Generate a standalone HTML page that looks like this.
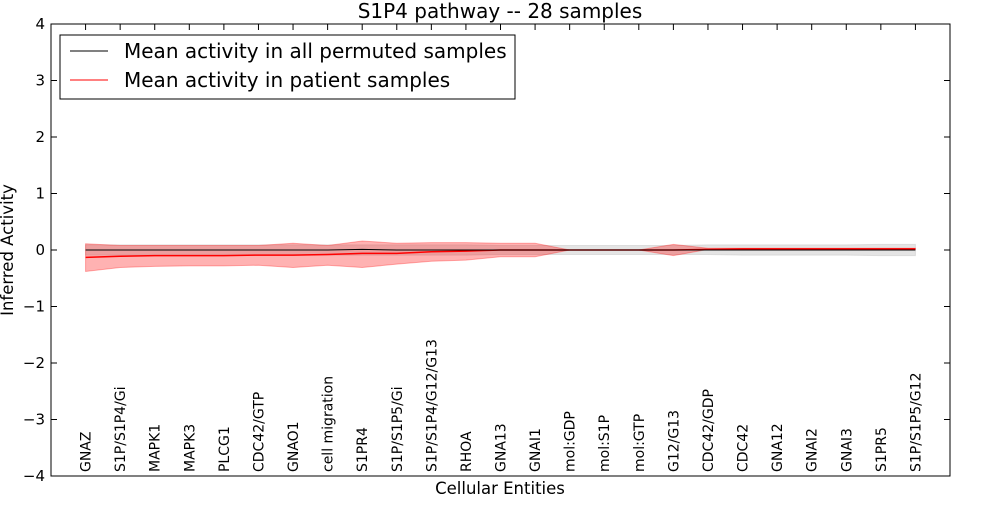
<!DOCTYPE html>
<html><head><meta charset="utf-8"><style>
body{margin:0;background:#fff;font-family:"Liberation Sans","DejaVu Sans",sans-serif}
</style></head><body>
<svg id="chart" width="1000" height="500" xmlns="http://www.w3.org/2000/svg" font-family="'DejaVu Sans','Liberation Sans',sans-serif">
<g id="bands"></g><g id="lines"></g><g id="axes"></g>
</svg>
<script>
const categories=["GNAZ","S1P/S1P4/Gi","MAPK1","MAPK3","PLCG1","CDC42/GTP","GNAO1","cell migration","S1PR4","S1P/S1P5/Gi","S1P/S1P4/G12/G13","RHOA","GNA13","GNAI1","mol:GDP","mol:S1P","mol:GTP","G12/G13","CDC42/GDP","CDC42","GNA12","GNAI2","GNAI3","S1PR5","S1P/S1P5/G12"];
const permMean=[0,0,0,0,0,0,0,0,0.01,0,0,0,0,0,0,0,0,0,0,0,0,0,0,0,0];
const permUpper=[0.09,0.09,0.09,0.09,0.09,0.09,0.09,0.09,0.09,0.09,0.09,0.09,0.08,0.08,0.08,0.08,0.08,0.08,0.09,0.09,0.09,0.09,0.09,0.1,0.1];
const permLower=[-0.09,-0.09,-0.09,-0.09,-0.09,-0.09,-0.09,-0.09,-0.09,-0.09,-0.09,-0.09,-0.08,-0.08,-0.08,-0.08,-0.08,-0.08,-0.08,-0.09,-0.09,-0.09,-0.09,-0.1,-0.1];
const patMean=[-0.13,-0.11,-0.1,-0.1,-0.1,-0.09,-0.09,-0.08,-0.06,-0.06,-0.03,-0.02,0,0,0,0,0,0,0.01,0.02,0.02,0.02,0.02,0.02,0.02];
const patUpper=[0.11,0.08,0.08,0.08,0.08,0.08,0.12,0.08,0.16,0.12,0.13,0.13,0.12,0.12,0,0,0,0.1,0.03,0.03,0.03,0.03,0.03,0.03,0.03];
const patLower=[-0.38,-0.31,-0.29,-0.28,-0.28,-0.27,-0.31,-0.27,-0.31,-0.25,-0.2,-0.18,-0.12,-0.12,0,0,0,-0.1,0.01,0.01,0.01,0.01,0.01,0.01,0.01];
const yTicks=[4,3,2,1,0,-1,-2,-3,-4];
const L=51,R=950,T=24,B=476;
const X=i=>L+(i+1)*(R-L)/26;
const Y=v=>T+(4-v)*(B-T)/8;
const NS="http://www.w3.org/2000/svg";
function mk(tag,attrs,parent,text){const e=document.createElementNS(NS,tag);for(const k in attrs)e.setAttribute(k,attrs[k]);if(text!==undefined)e.textContent=text;parent.appendChild(e);return e;}
const bands=document.getElementById('bands'),lines=document.getElementById('lines'),axes=document.getElementById('axes');
function band(up,lo,fill,op,name){let d=up.map((v,i)=>(i?'L':'M')+X(i)+','+Y(v)).join('');for(let i=lo.length-1;i>=0;i--)d+='L'+X(i)+','+Y(lo[i]);d+='Z';
const p=mk('path',{d:d,fill:fill,'fill-opacity':op,stroke:fill,'stroke-opacity':op},bands);

}
function line(a,c,name,w){const p=mk('polyline',{points:a.map((v,i)=>X(i)+','+Y(v)).join(' '),fill:'none',stroke:c,'stroke-width':w},lines);

}
band(permUpper,permLower,'#bbbbbb',0.4,'permuted-band');
band(patUpper,patLower,'#ff0000',0.3,'patient-band');
line(patMean,'#ff0000','patient-mean-line',1.5);
line(permMean,'#000000','permuted-mean-line',1);
const fr=mk('rect',{x:L,y:T,width:R-L,height:B-T,fill:'none',stroke:'#000'},axes);


yTicks.forEach(v=>{const y=Y(v);mk('line',{x1:L,x2:L+6,y1:y,y2:y,stroke:'#000'},axes);mk('line',{x1:R,x2:R-6,y1:y,y2:y,stroke:'#000'},axes);
const t=mk('text',{x:L-6,y:y+5,'text-anchor':'end','font-size':15},axes,(v<0?'\u2212':'')+Math.abs(v));

});
categories.forEach((c,i)=>{const x=X(i);mk('line',{x1:x,x2:x,y1:T,y2:T+6,stroke:'#000'},axes);
const t=mk('text',{x:x+5,y:472,transform:`rotate(-90 ${x+5} 472)`,'font-size':14},axes,c);

});
let t=mk('text',{x:500,y:18,'text-anchor':'middle','font-size':20},axes,'S1P4 pathway -- 28 samples');

t=mk('text',{x:500,y:494,'text-anchor':'middle','font-size':16.5},axes,'Cellular Entities');

t=mk('text',{x:13,y:250,'text-anchor':'middle','font-size':16.5,transform:'rotate(-90 13 250)'},axes,'Inferred Activity');

const lg=mk('g',{},axes);


mk('rect',{x:60,y:35,width:455,height:64,fill:'#fff',stroke:'#000'},lg);
mk('line',{x1:70,x2:108,y1:51,y2:51,stroke:'#000'},lg);
mk('line',{x1:70,x2:108,y1:80,y2:80,stroke:'#f00'},lg);
t=mk('text',{x:124,y:58,'font-size':20},lg,'Mean activity in all permuted samples');

t=mk('text',{x:124,y:87,'font-size':20},lg,'Mean activity in patient samples');

</script>
</body></html>
